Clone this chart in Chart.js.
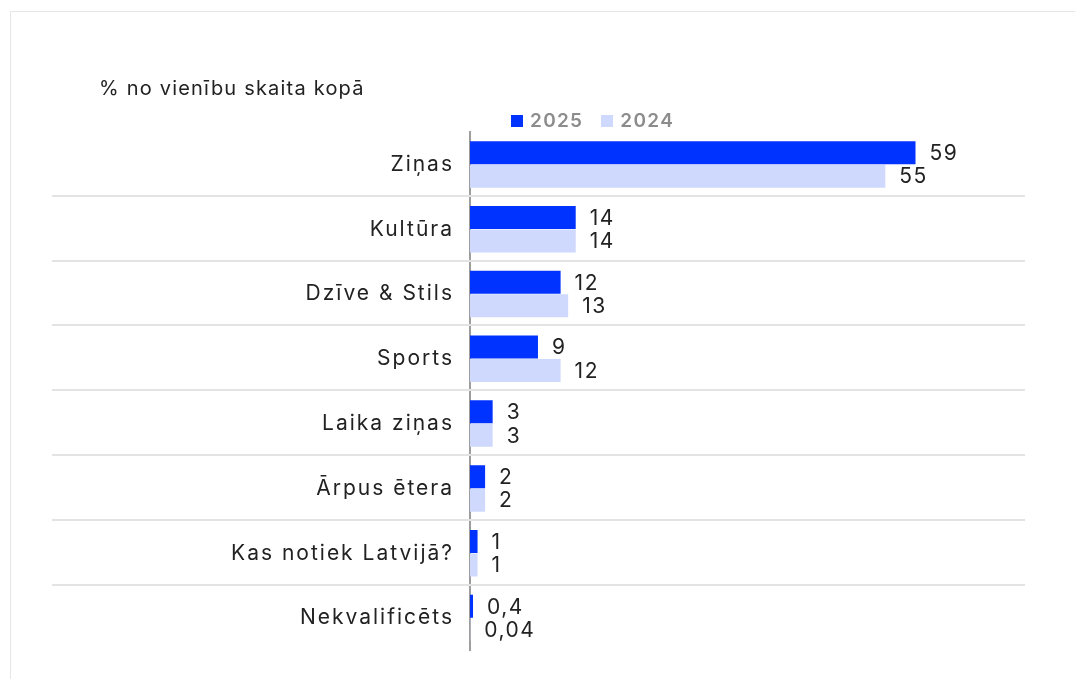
<!DOCTYPE html>
<html lang="lv">
<head>
<meta charset="utf-8">
<title>Vienību skaits pa kategorijām</title>
<script src="https://cdn.jsdelivr.net/npm/chart.js@4.4.0/dist/chart.umd.min.js"></script>
<style>
  html, body { margin: 0; padding: 0; background: #fff; }
  body { width: 1075px; height: 679px; overflow: hidden; position: relative; font-family: Inter, "Noto Sans", sans-serif; }
  .card { position: absolute; left: 10px; top: 11px; width: 1100px; height: 700px; border: 1px solid #e6e6e6; box-sizing: border-box; }
  .wrap { position: absolute; left: 0; top: 0; width: 1075px; height: 679px; }
  .title { position: absolute; left: 99px; top: 75px; font-size: 20px; letter-spacing: 1.2px; color: #222; line-height: 26px; }
  .legend { position: absolute; left: 511px; top: 108px; display: flex; align-items: center; font-size: 19px; font-weight: 600; letter-spacing: 1.3px; color: #8c8c8c; line-height: 26px; }
  .legend span.box { display: inline-block; width: 12px; height: 12px; margin-right: 7px; }
  .legend .item { display: flex; align-items: center; margin-right: 18px; }
</style>
</head>
<body>
<div class="card"></div>
<div class="wrap"><canvas id="chart" width="1075" height="679"></canvas></div>
<div class="title">% no vienību skaita kopā</div>
<div class="legend" id="legend"></div>

<script>
// data
const categories = ['Ziņas', 'Kultūra', 'Dzīve & Stils', 'Sports', 'Laika ziņas', 'Ārpus ētera', 'Kas notiek Latvijā?', 'Nekvalificēts'];
const values2025 = [59, 14, 12, 9, 3, 2, 1, 0.4];
const values2024 = [55, 14, 13, 12, 3, 2, 1, 0.04];
const seriesNames = ['2025', '2024'];
const seriesColors = ['#0033ff', '#cfd8fd'];

const FONT = 'Inter, "Noto Sans", sans-serif';

// legend (html)
const legendEl = document.getElementById('legend');
seriesNames.forEach((name, i) => {
    const item = document.createElement('div');
    item.className = 'item';
    item.innerHTML = '<span class="box" style="background:' + seriesColors[i] + '"></span>' + name;
    legendEl.appendChild(item);
});

// wider tracking for the category labels
const spacing = {
    id: 'spacing',
    beforeDraw(chart) { chart.ctx.letterSpacing = '2px'; },
    afterDraw(chart) { chart.ctx.letterSpacing = '0px'; }
};

// value labels at the end of each bar
const valueLabels = {
    id: 'valueLabels',
    afterDatasetsDraw(chart) {
        const ctx = chart.ctx;
        ctx.save();
        ctx.font = '21px ' + FONT;
        ctx.letterSpacing = '1.5px';
        ctx.fillStyle = '#222';
        ctx.textBaseline = 'middle';
        ctx.textAlign = 'left';
        chart.data.datasets.forEach((ds, di) => {
            const meta = chart.getDatasetMeta(di);
            meta.data.forEach((bar, i) => {
                const txt = String(ds.data[i]).replace('.', ',');
                ctx.fillText(txt, bar.x + 14, bar.y + 1);
            });
        });
        ctx.restore();
    }
};

// separators between categories, running into the label area
const separators = {
    id: 'separators',
    beforeDatasetsDraw(chart) {
        const y = chart.scales.y;
        const ctx = chart.ctx;
        ctx.save();
        ctx.strokeStyle = '#e3e3e3';
        ctx.lineWidth = 2;
        for (let i = 1; i < categories.length; i++) {
            const py = Math.round((y.getPixelForValue(i - 1) + y.getPixelForValue(i)) / 2) - 1;
            ctx.beginPath();
            ctx.moveTo(52, py);
            ctx.lineTo(chart.chartArea.right, py);
            ctx.stroke();
        }
        ctx.restore();
    }
};

new Chart(document.getElementById('chart'), {
    type: 'bar',
    data: {
        labels: categories,
        datasets: [
            { label: seriesNames[0], data: values2025, backgroundColor: seriesColors[0] },
            { label: seriesNames[1], data: values2024, backgroundColor: seriesColors[1] }
        ]
    },
    options: {
        indexAxis: 'y',
        responsive: false,
        animation: false,
        devicePixelRatio: 1,
        layout: { padding: { left: 99, right: 50, top: 132, bottom: 27 } },
        datasets: { bar: { categoryPercentage: 0.725, barPercentage: 0.98 } },
        scales: {
            x: {
                min: 0,
                max: 73.5,
                display: false
            },
            y: {
                grid: { display: false, drawTicks: false },
                border: { display: true, color: '#9d9d9d', width: 2 },
                ticks: {
                    color: '#222',
                    padding: 16,
                    font: { family: FONT, size: 21 }
                },
                afterFit(scale) { scale.width = 371; }
            }
        },
        plugins: {
            legend: { display: false },
            tooltip: { enabled: false }
        }
    },
    plugins: [spacing, separators, valueLabels]
});
</script>
</body>
</html>
